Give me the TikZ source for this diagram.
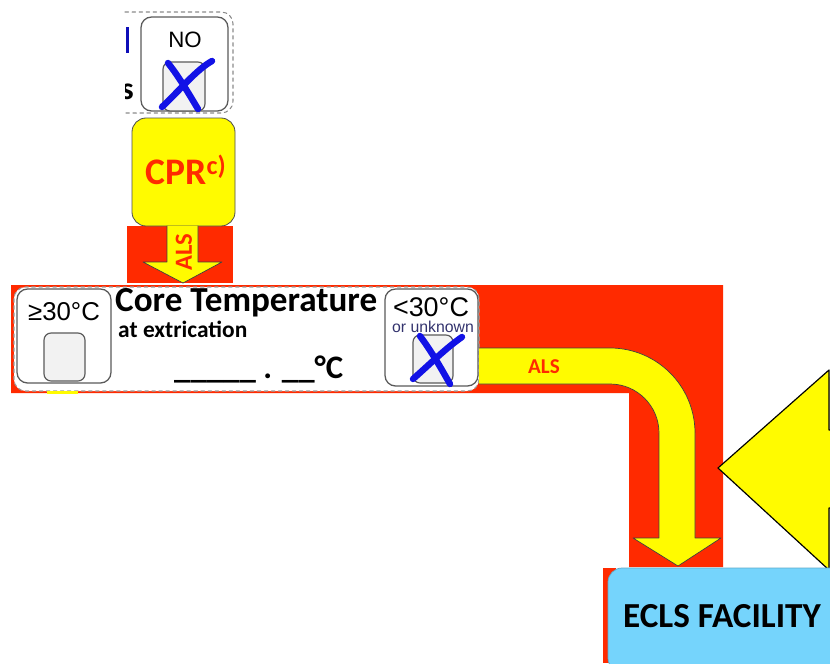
\documentclass[tikz,border=0pt]{standalone}
\usepackage{fontspec}
\setmainfont{Carlito}
\newfontfamily\arialfont{Liberation Sans}
\definecolor{bandred}{HTML}{FF2A00}
\definecolor{arrowyellow}{HTML}{FFFB00}
\definecolor{eclsblue}{HTML}{75D4FC}
\definecolor{boxgray}{HTML}{5A5A5A}
\definecolor{tickfill}{HTML}{F2F2F2}
\definecolor{crossblue}{HTML}{1212E6}
\definecolor{notegray}{HTML}{33336E}
\newcommand{\fs}[1]{\fontsize{#1}{#1}\selectfont}

\tikzset{
  choicebox/.style={draw=boxgray, line width=1.1pt, rounded corners=9pt, fill=white},
  tickbox/.style={draw=boxgray, line width=1pt, rounded corners=6pt, fill=tickfill},
  cross/.style={draw=crossblue, line width=5.5pt, line cap=round},
  fatarrow/.style={fill=arrowyellow, draw=black!75, line width=0.6pt},
  alslabel/.style={text=bandred, font=\bfseries\fs{18}, inner sep=0pt},
}

\begin{document}
\begin{tikzpicture}[x=0.03cm,y=-0.03cm,line cap=round,line join=round]
  \useasboundingbox (0,0) rectangle (830,663);
  % red bands
  \fill[bandred] (127,226) rectangle (233,283);
  \fill[bandred] (11,285) -- (723,285) -- (723,567) -- (629,567) -- (629,393) -- (11,393) -- cycle;
  \fill[bandred] (603,568) rectangle (616,663);
  % cut off question (top left)
  \begin{scope}
    \clip (125,0) rectangle (830,663);
    \fill[crossblue!80!black] (125.5,27) rectangle (128.5,53);
    \node[anchor=base east, font=\bfseries\fs{27}, inner sep=0pt] (qtail) at (134,99) {s};
  \end{scope}
  \draw[boxgray!70, line width=0.9pt, dashed, rounded corners=10pt] (125,12) -- (233,12) -- (233,113) -- (125,113);
  % NO
  \draw[choicebox] (141,17) rectangle (228,111);
  \node[font=\arialfont\fs{19}, inner sep=0pt] (no) at (185,40) {NO};
  \draw[tickbox] (163,62) rectangle (205,111);
  \draw[cross] (162,107) .. controls (180,90) and (196,70) .. (212,61);
  \draw[cross] (168,63) .. controls (180,78) and (190,96) .. (198,109);
  % CPR
  \draw[fill=arrowyellow, draw=black!70, line width=0.7pt, rounded corners=12pt] (132,118) rectangle (235,226);
  \node[text=bandred, font=\bfseries\fs{32}, inner sep=0pt] (cpr) at (186,170) {CPR\textsuperscript{c)}};
  \draw[fatarrow] (167,226) -- (167,262) -- (143,262) -- (183,283) -- (222,262) -- (198,262) -- (198,226);
  \node[alslabel, font=\bfseries\fs{21}, rotate=90] (als1) at (184,252) {ALS};
  % core temperature
  \draw[fill=white, draw=boxgray!60, line width=0.9pt, dashed, rounded corners=10pt] (14,287) rectangle (479,391);
  \fill[arrowyellow] (47,391) rectangle (78,394);
  \draw[choicebox] (17,289) rectangle (111,383);
  \node[font=\arialfont\fs{22}, inner sep=0pt] (above30) at (64,312) {≥30°C};
  \draw[tickbox] (44,333) rectangle (85,381);
  \node[anchor=base west, font=\bfseries\fs{30}, inner sep=0pt] (core) at (115,311) {Core Temperature};
  \node[anchor=base west, font=\bfseries\fs{20}, inner sep=0pt] (extr) at (118,337) {at extrication};
  \node[anchor=base west, font=\bfseries\fs{28}, inner sep=0pt] (blank) at (174,378) {\_\_\_\_\_ . \_\_°C};
  \draw[choicebox] (385,289) rectangle (478,386);
  \node[font=\arialfont\fs{23}, inner sep=0pt] (below30) at (431,307) {<30°C};
  \node[font=\arialfont\fs{13.5}, text=notegray, inner sep=0pt] (unknown) at (433,327) {or unknown};
  \draw[tickbox] (413,335) rectangle (453,383);
  \draw[cross] (413,379) .. controls (430,364) and (446,348) .. (462,337);
  \draw[cross] (420,336) .. controls (432,352) and (442,370) .. (450,384);
  % ALS arrow to ECLS
  \draw[fatarrow] (479,348) -- (610,348) arc (-90:0:85) -- (695,538) -- (721,538) -- (678,566)
    -- (633,538) -- (659,538) -- (659,433) arc (0:-90:49) -- (610,384) -- (479,384);
  \node[alslabel] (als2) at (544,367) {ALS};
  % big arrow head (right)
  \fill[black!30, opacity=0.6] (722,472) -- (833,374) -- (833,574) -- cycle;
  \draw[fill=arrowyellow, draw=black, line width=1pt] (836,430) -- (829,430) -- (829,370) -- (718,468)
    -- (829,570) -- (829,508) -- (836,508);
  % ECLS
  \draw[fill=eclsblue, draw=eclsblue!80!black, line width=0.6pt, rounded corners=12pt] (608,568) rectangle (860,672);
  \node[font=\bfseries\fs{30}, inner sep=0pt] (ecls) at (722,616) {ECLS FACILITY};
\end{tikzpicture}
\end{document}
